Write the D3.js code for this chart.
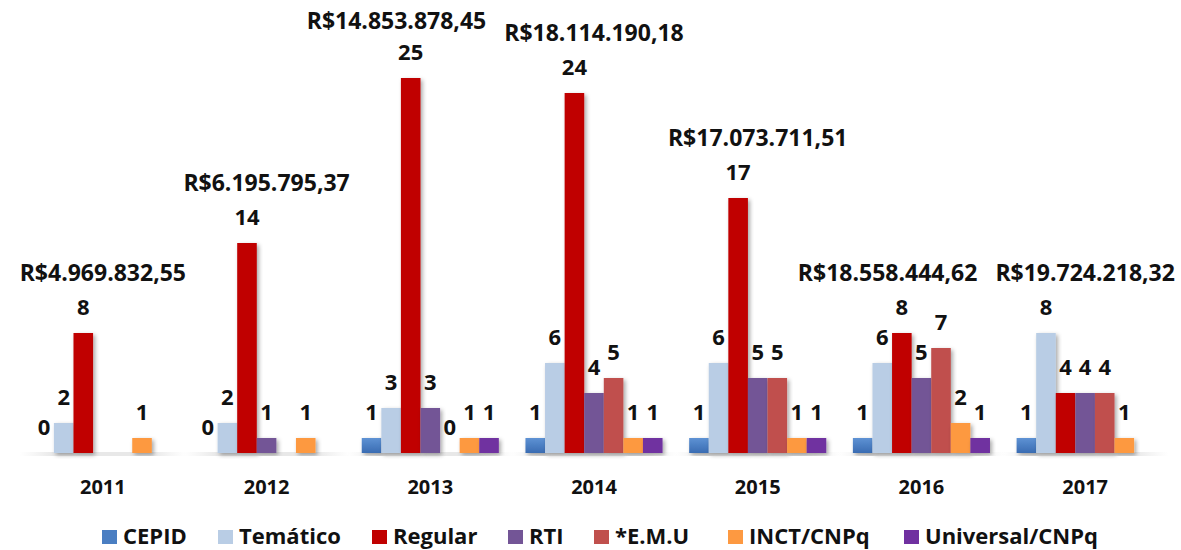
<!DOCTYPE html>
<html>
<head>
<meta charset="utf-8">
<style>
    body { margin: 0; background: #fff; }
    text { font-family: "Open Sans", Lato, sans-serif; font-weight: bold; fill: #111; }
    .val { font-size: 22px; text-anchor: middle; }
    .amt { font-size: 23px; text-anchor: middle; }
    .year { font-size: 20px; text-anchor: middle; }
    .leg { font-size: 22px; }
</style>
<script src="https://d3js.org/d3.v7.min.js"></script>
</head>
<body>
<svg width="1181" height="550"></svg>
<script>
var years = ["2011", "2012", "2013", "2014", "2015", "2016", "2017"];
var seriesNames = ["CEPID", "Temático", "Regular", "RTI", "*E.M.U", "INCT/CNPq", "Universal/CNPq"];
var cepid = [0, 0, 1, 1, 1, 1, 1];
var tematico = [2, 2, 3, 6, 6, 6, 8];
var regular = [8, 14, 25, 24, 17, 8, 4];
var rti = [null, 1, 3, 4, 5, 5, 4];
var emu = [null, null, 0, 5, 5, 7, 4];
var inct = [1, 1, 1, 1, 1, 2, 1];
var universal = [null, null, 1, 1, 1, 1, null];
var amounts = ["R$4.969.832,55", "R$6.195.795,37", "R$14.853.878,45", "R$18.114.190,18",
               "R$17.073.711,51", "R$18.558.444,62", "R$19.724.218,32"];

var seriesValues = [cepid, tematico, regular, rti, emu, inct, universal];
var colors = ["url(#gCepid)", "#b9cde5", "#c00000", "#735596", "#c0504d", "#fd9941", "#7030a0"];
var legendColors = ["#4a7ec2", "#b9cde5", "#c00000", "#735596", "#c0504d", "#fd9941", "#7030a0"];

var svg = d3.select("svg");
var defs = svg.append("defs");

var grad = defs.append("linearGradient").attr("id", "gCepid")
    .attr("x1", 0).attr("y1", 0).attr("x2", 0).attr("y2", 1);
grad.append("stop").attr("offset", "0%").attr("stop-color", "#5e92d4");
grad.append("stop").attr("offset", "100%").attr("stop-color", "#3a6cb2");

var floor = defs.append("linearGradient").attr("id", "gFloor")
    .attr("x1", 0).attr("y1", 0).attr("x2", 1).attr("y2", 0);
floor.append("stop").attr("offset", "0%").attr("stop-color", "#eee").attr("stop-opacity", 0);
floor.append("stop").attr("offset", "20%").attr("stop-color", "#e8e8e8").attr("stop-opacity", 1);
floor.append("stop").attr("offset", "80%").attr("stop-color", "#e8e8e8").attr("stop-opacity", 1);
floor.append("stop").attr("offset", "100%").attr("stop-color", "#eee").attr("stop-opacity", 0);

var shadow = defs.append("filter").attr("id", "shadow")
    .attr("x", "-30%").attr("y", "-10%").attr("width", "160%").attr("height", "130%");
shadow.append("feDropShadow").attr("dx", 2).attr("dy", 2).attr("stdDeviation", 2)
    .attr("flood-color", "#000").attr("flood-opacity", 0.35);

var x0 = d3.scaleBand().domain(years).range([21, 1167]).padding(0);
var x1 = d3.scaleBand().domain(seriesNames).range([0, x0.bandwidth()])
    .paddingInner(0).paddingOuter(0.68);
var y = d3.scaleLinear().domain([0, 25]).range([453, 78]);

var groups = svg.selectAll(".grp")
    .data(years)
    .enter().append("g")
    .attr("class", "grp")
    .attr("transform", function (d) { return "translate(" + x0(d) + ",0)"; });

groups.append("rect")
    .attr("x", x1(seriesNames[0]) - 15)
    .attr("y", y(0) - 1)
    .attr("width", x1.bandwidth() * 7 + 30)
    .attr("height", 4)
    .attr("fill", "url(#gFloor)");

var amtLabels = [];

groups.each(function (yr, yi) {
    var g = d3.select(this);
    var cells = seriesNames.map(function (s, si) {
        return { s: s, si: si, v: seriesValues[si][yi] };
    }).filter(function (c) { return c.v !== null; });

    g.selectAll(".bar")
        .data(cells.filter(function (c) { return c.v > 0; }))
        .enter().append("rect")
        .attr("class", "bar")
        .attr("x", function (c) { return x1(c.s); })
        .attr("y", function (c) { return y(c.v); })
        .attr("width", x1.bandwidth())
        .attr("height", function (c) { return y(0) - y(c.v); })
        .attr("fill", function (c) { return colors[c.si]; })
        .attr("filter", "url(#shadow)");

    g.selectAll(".val")
        .data(cells)
        .enter().append("text")
        .attr("class", "val")
        .attr("x", function (c) { return x1(c.s) + x1.bandwidth() / 2; })
        .attr("y", function (c) { return y(c.v) - 18; })
        .text(function (c) { return c.v; });

    var top = d3.max(cells, function (c) { return c.v; });
    var ay = Math.max(29, y(top) - 52);
    var t = svg.append("text")
        .attr("class", "amt")
        .attr("x", x0(yr) + x0.bandwidth() / 2)
        .attr("y", ay)
        .text(amounts[yi]);
    amtLabels.push({ node: t, cx: x0(yr) + x0.bandwidth() / 2, y: ay,
                     w: t.node().getComputedTextLength() });
});

// push overlapping amount labels leftwards (right to left)
for (var i = amtLabels.length - 2; i >= 0; i--) {
    var a = amtLabels[i], b = amtLabels[i + 1];
    if (Math.abs(a.y - b.y) < 25) {
        var maxRight = b.cx - b.w / 2 - 18;
        if (a.cx + a.w / 2 > maxRight) a.cx = maxRight - a.w / 2;
    }
    a.cx = Math.max(a.cx, a.w / 2 + 8);
    a.node.attr("x", a.cx);
}

svg.append("g")
    .attr("transform", "translate(0," + y(0) + ")")
    .call(d3.axisBottom(x0).tickSize(0))
    .call(function (a) { a.select(".domain").remove(); })
    .selectAll("text")
    .attr("class", "year")
    .attr("y", 41)
    .attr("dy", null)
    .attr("font-size", null)
    .attr("font-family", null);

var legendX = [102, 218, 372, 508, 594, 728, 904];
var leg = svg.selectAll(".legItem")
    .data(seriesNames)
    .enter().append("g")
    .attr("class", "legItem")
    .attr("transform", function (d, i) { return "translate(" + legendX[i] + ",530)"; });
leg.append("rect")
    .attr("width", 15).attr("height", 14)
    .attr("fill", function (d, i) { return legendColors[i]; });
leg.append("text")
    .attr("class", "leg")
    .attr("x", 21).attr("y", 14)
    .text(function (d) { return d; });
</script>
</body>
</html>
